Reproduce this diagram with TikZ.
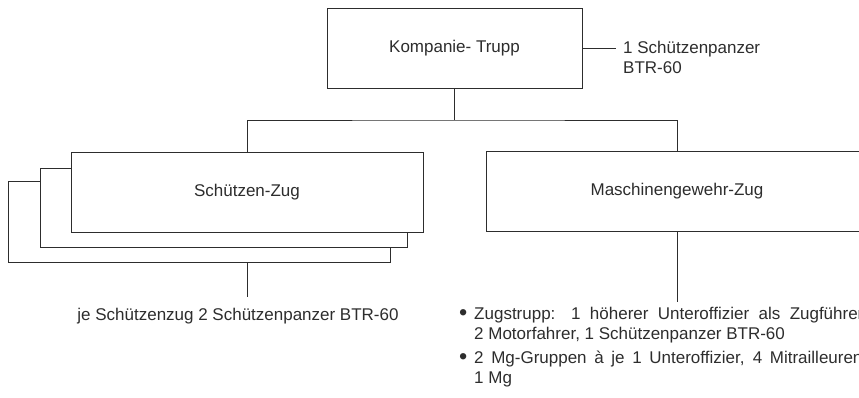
\documentclass[tikz,border=0pt]{standalone}
\usepackage{fontspec}
\setmainfont{Liberation Sans}
\usetikzlibrary{positioning}
\definecolor{ink}{RGB}{45, 45, 45}
\newlength{\px}
\setlength{\px}{0.03cm}
\newcommand{\dotitem}{\hangindent=15\px\hangafter=1\makebox[15\px][l]{\raisebox{-0.6pt}{\fontsize{20}{17}\selectfont\textbullet}}}

\begin{document}
\begin{tikzpicture}[
    x=0.03cm, y=-0.03cm,
    unit/.style={rectangle, draw=ink, fill=white, line width=0.8pt, minimum width=#1, minimum height=80\px, inner sep=0pt, font=\fontsize{14.5}{17}\selectfont, text=ink},
    note/.style={inner sep=0pt, align=left, font=\fontsize{14.5}{17}\selectfont, text=ink},
    link/.style={draw=ink, line width=0.8pt}
  ]
  \useasboundingbox (0,0) rectangle (859,398);
  \clip (0,0) rectangle (859,398);

  % Units
  \node[unit=255\px] (kp) at (454.5,48) {Kompanie- Trupp};
  \node[note, anchor=west, inner xsep=7\px] (kpinfo) at (616,57) {1 Schützenpanzer\\BTR-60};

  \node[unit=382\px, minimum height=81\px] (sz3) at (199,221.5) {};
  \node[unit=367\px, minimum height=79\px] (sz2) at (223.5,207.5) {};
  \node[unit=352\px] (sz) at (247,192) {Schützen-Zug};

  \node[unit=382\px] (mg) at (677,191.5) {Maschinengewehr-Zug};

  % Notes below
  \node[note, anchor=north, inner ysep=11\px] (szinfo) at (238,297) {je Schützenzug 2 Schützenpanzer BTR-60};
  \node[note, anchor=north west, text width=408\px, align=justify, inner ysep=5\px] (mginfo) at (459,302) {%
    \dotitem Zugstrupp: 1 höherer Unteroffizier als Zugführer,\linebreak 2 Motorfahrer, 1 Schützenpanzer BTR-60\par
    \vskip 4\px
    \dotitem 2 Mg-Gruppen à je 1 Unteroffizier, 4 Mitrailleuren,\linebreak 1 Mg\par};

  % Links
  \coordinate (bus) at (454.5,120);
  \draw[link] (kp.east) -- (kp.east -| kpinfo.west);
  \draw[link] (kp.south) -- (bus);
  \draw[link] (sz.north) |- (bus) -| (mg.north);
  \draw[link] (sz3.south -| sz.south) -- (szinfo.north -| sz.south);
  \draw[link] (mg.south) -- (mginfo.north -| mg.south);

\end{tikzpicture}
\end{document}
